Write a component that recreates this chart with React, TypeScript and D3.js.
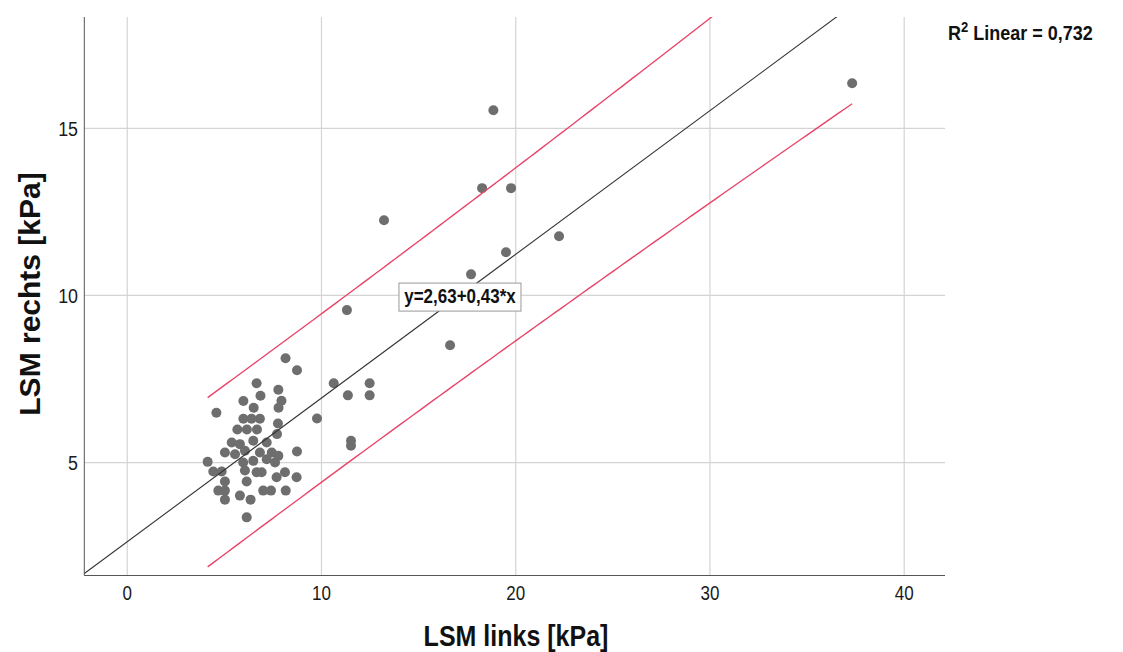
import React from "react";
import * as d3 from "d3";

// ---- data (LSM links vs LSM rechts, kPa) ----
const lsmLinks: number[] = [
  37.32, 18.85, 18.27, 19.76, 13.22, 22.23, 19.5, 17.7, 11.31, 16.62,
  10.63, 12.48, 11.36, 12.48, 9.77, 11.52, 11.52, 8.74, 8.74,
  8.15, 6.66, 7.78, 6.86, 5.98, 7.94, 6.51, 7.79, 4.59,
  5.98, 6.4, 6.83, 7.76, 5.67, 6.16, 6.68, 7.71,
  5.38, 5.8, 6.49, 7.18, 5.03, 5.55, 6.06, 6.83, 7.44, 7.78,
  4.14, 5.97, 6.49, 7.18, 7.61,
  4.43, 4.86, 6.06, 6.66, 6.92, 7.69, 8.12, 8.72,
  5.03, 6.15, 4.69, 5.03, 7.0, 7.4, 8.16, 5.8, 5.03, 6.35, 6.15,
];
const lsmRechts: number[] = [
  16.35, 15.54, 13.21, 13.21, 12.25, 11.77, 11.29, 10.63, 9.56, 8.51,
  7.37, 7.37, 7.01, 7.01, 6.32, 5.65, 5.5, 7.76, 5.33,
  8.12, 7.37, 7.18, 7.0, 6.84, 6.85, 6.64, 6.64, 6.49,
  6.31, 6.31, 6.31, 6.17, 5.99, 5.99, 5.99, 5.85,
  5.6, 5.55, 5.65, 5.6, 5.3, 5.25, 5.35, 5.3, 5.3, 5.2,
  5.02, 5.0, 5.05, 5.1, 5.0,
  4.73, 4.73, 4.76, 4.71, 4.71, 4.56, 4.71, 4.56,
  4.43, 4.43, 4.16, 4.16, 4.16, 4.16, 4.16, 4.01, 3.89, 3.89, 3.36,
];

const xTicks = [0, 10, 20, 30, 40];
const yTicks = [5, 10, 15];
const xDomain: [number, number] = [-2.21, 42.1];
const yDomain: [number, number] = [1.62, 18.33];

// regression y = 2.63 + 0.43 x, R² = 0.732
const intercept = 2.63;
const slope = 0.43;
const r2Label = "0,732";
const equationLabel = "y=2,63+0,43*x";
const equationAnchor = { x: 17.13, y: 9.95 };
// individual prediction interval
const piBase = 2.52;
const piMeanX = 9;
const piSxx = 2200;

const W = 1123;
const H = 652;
const plot = { left: 84.3, right: 945, top: 17, bottom: 575.5 };

export default function App() {
  const x = d3.scaleLinear().domain(xDomain).range([plot.left, plot.right]);
  const y = d3.scaleLinear().domain(yDomain).range([plot.bottom, plot.top]);

  const fit = (v: number) => intercept + slope * v;
  const half = (v: number) => piBase * Math.sqrt(1 + ((v - piMeanX) ** 2) / piSxx);

  const xMin = d3.min(lsmLinks)!;
  const xMax = d3.max(lsmLinks)!;
  const piXs = d3.range(0, 101).map((i) => xMin + ((xMax - xMin) * i) / 100);

  const line = d3
    .line<[number, number]>()
    .x((d) => x(d[0]))
    .y((d) => y(d[1]));

  const fitPath = line([
    [xDomain[0], fit(xDomain[0])],
    [xDomain[1], fit(xDomain[1])],
  ])!;
  const upperPath = line(piXs.map((v) => [v, fit(v) + half(v)] as [number, number]))!;
  const lowerPath = line(piXs.map((v) => [v, fit(v) - half(v)] as [number, number]))!;

  const font = "'Liberation Sans', Arial, sans-serif";
  const ex = x(equationAnchor.x);
  const ey = y(equationAnchor.y);

  return (
    <svg
      width={W}
      height={H}
      style={{ position: "absolute", left: 0, top: 0, background: "#fff" }}
      fontFamily={font}
    >
      <defs>
        <clipPath id="plotClip">
          <rect x={plot.left} y={plot.top} width={plot.right - plot.left} height={plot.bottom - plot.top} />
        </clipPath>
      </defs>
      {/* grid */}
      {xTicks.map((t) => (
        <line key={"gx" + t} x1={x(t)} x2={x(t)} y1={plot.top} y2={plot.bottom} stroke="#d4d4d4" strokeWidth={1.2} />
      ))}
      {yTicks.map((t) => (
        <line key={"gy" + t} x1={plot.left} x2={plot.right} y1={y(t)} y2={y(t)} stroke="#d4d4d4" strokeWidth={1.2} />
      ))}
      {/* axes */}
      <line x1={plot.left} x2={plot.left} y1={plot.top} y2={plot.bottom} stroke="#555" strokeWidth={1} />
      <line x1={plot.left} x2={plot.right} y1={plot.bottom} y2={plot.bottom} stroke="#555" strokeWidth={1} />

      {/* points */}
      <g>
        {lsmLinks.map((v, i) => (
          <circle key={i} cx={x(v)} cy={y(lsmRechts[i])} r={5} fill="#6e6e6e" />
        ))}
      </g>

      {/* lines */}
      <g clipPath="url(#plotClip)" fill="none">
        <path d={fitPath} stroke="#333" strokeWidth={1.1} />
        <path d={upperPath} stroke="#e8456a" strokeWidth={1.4} />
        <path d={lowerPath} stroke="#e8456a" strokeWidth={1.4} />
      </g>

      {/* equation label */}
      <rect x={ex - 61} y={ey - 14} width={122} height={28} fill="#fff" stroke="#999" strokeWidth={1} />
      <text
        transform={`translate(${ex}, ${ey + 6}) scale(1, 1.15)`}
        textAnchor="middle"
        fontSize={17}
        fontWeight="bold"
        fill="#111"
      >
        {equationLabel}
      </text>

      {/* tick labels */}
      {xTicks.map((t) => (
        <text
          key={"tx" + t}
          transform={`translate(${x(t)}, 600) scale(1, 1.22)`}
          textAnchor="middle"
          fontSize={17}
          fill="#1a1a1a"
        >
          {t}
        </text>
      ))}
      {yTicks.map((t) => (
        <text
          key={"ty" + t}
          transform={`translate(78, ${y(t) + 7.5}) scale(1.05, 1.22)`}
          textAnchor="end"
          fontSize={17}
          fill="#1a1a1a"
        >
          {t}
        </text>
      ))}

      {/* axis titles */}
      <text
        transform="translate(516, 646) scale(1, 1.15)"
        textAnchor="middle"
        fontSize={25}
        fontWeight="bold"
        fill="#111"
      >
        LSM links [kPa]
      </text>
      <text
        transform={`translate(40, 294) rotate(-90)`}
        textAnchor="middle"
        fontSize={30}
        fontWeight="bold"
        fill="#111"
      >
        LSM rechts [kPa]
      </text>

      {/* R² */}
      <text transform="translate(948, 40) scale(1, 1.1)" fontSize={18} fontWeight="bold" fill="#111">
        R<tspan fontSize={13} dy={-7}>2</tspan>
        <tspan dy={7}> Linear = {r2Label}</tspan>
      </text>
    </svg>
  );
}
